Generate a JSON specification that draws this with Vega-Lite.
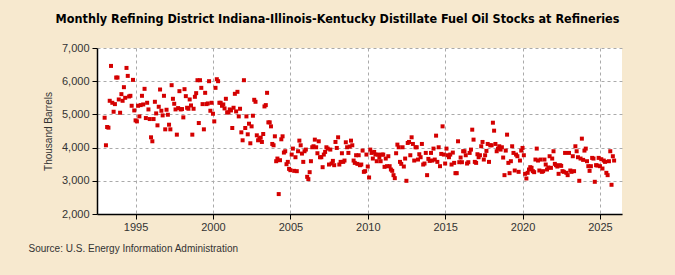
{
  "$schema": "https://vega.github.io/schema/vega-lite/v6.json",
  "autosize": {"type": "none"},
  "width": 525,
  "height": 166,
  "padding": {"left": 97, "top": 48, "right": 53, "bottom": 61},
  "background": "#F7E9CF",
  "title": {
    "text": "Monthly Refining District Indiana-Illinois-Kentucky Distillate Fuel Oil Stocks at Refineries",
    "anchor": "middle",
    "dx": -22,
    "offset": 17,
    "font": "DejaVu Sans Condensed, Liberation Sans",
    "fontSize": 12.5,
    "fontWeight": "bold",
    "color": "#000000"
  },
  "config": {
    "view": {"fill": "#FFFFFF", "stroke": null},
    "font": "Liberation Sans"
  },
  "data": {
    "values": [
      {"date":"1993-01-01","value":4900},{"date":"1993-02-01","value":4070},{"date":"1993-03-01","value":4620},{"date":"1993-04-01","value":4600},{"date":"1993-05-01","value":5410},{"date":"1993-06-01","value":6460},{"date":"1993-07-01","value":5350},{"date":"1993-08-01","value":5080},{"date":"1993-09-01","value":5310},{"date":"1993-10-01","value":6110},{"date":"1993-11-01","value":6110},{"date":"1993-12-01","value":5450},
      {"date":"1994-01-01","value":5050},{"date":"1994-02-01","value":5610},{"date":"1994-03-01","value":5410},{"date":"1994-04-01","value":5820},{"date":"1994-05-01","value":5500},{"date":"1994-06-01","value":6400},{"date":"1994-07-01","value":6160},{"date":"1994-08-01","value":5540},{"date":"1994-09-01","value":5560},{"date":"1994-10-01","value":5260},{"date":"1994-11-01","value":6040},{"date":"1994-12-01","value":5120},
      {"date":"1995-01-01","value":4820},{"date":"1995-02-01","value":4790},{"date":"1995-03-01","value":5260},{"date":"1995-04-01","value":4940},{"date":"1995-05-01","value":5280},{"date":"1995-06-01","value":5560},{"date":"1995-07-01","value":5300},{"date":"1995-08-01","value":5770},{"date":"1995-09-01","value":4890},{"date":"1995-10-01","value":5350},{"date":"1995-11-01","value":5150},{"date":"1995-12-01","value":4860},
      {"date":"1996-01-01","value":4310},{"date":"1996-02-01","value":4190},{"date":"1996-03-01","value":4860},{"date":"1996-04-01","value":5380},{"date":"1996-05-01","value":5030},{"date":"1996-06-01","value":4670},{"date":"1996-07-01","value":5230},{"date":"1996-08-01","value":5750},{"date":"1996-09-01","value":5110},{"date":"1996-10-01","value":4970},{"date":"1996-11-01","value":5560},{"date":"1996-12-01","value":4550},
      {"date":"1997-01-01","value":5140},{"date":"1997-02-01","value":4990},{"date":"1997-03-01","value":4690},{"date":"1997-04-01","value":4550},{"date":"1997-05-01","value":5880},{"date":"1997-06-01","value":5470},{"date":"1997-07-01","value":5320},{"date":"1997-08-01","value":5150},{"date":"1997-09-01","value":4390},{"date":"1997-10-01","value":5190},{"date":"1997-11-01","value":5700},{"date":"1997-12-01","value":5150},
      {"date":"1998-01-01","value":5160},{"date":"1998-02-01","value":4910},{"date":"1998-03-01","value":5760},{"date":"1998-04-01","value":5550},{"date":"1998-05-01","value":5200},{"date":"1998-06-01","value":5170},{"date":"1998-07-01","value":5450},{"date":"1998-08-01","value":5270},{"date":"1998-09-01","value":4390},{"date":"1998-10-01","value":5170},{"date":"1998-11-01","value":5530},{"date":"1998-12-01","value":5640},
      {"date":"1999-01-01","value":6030},{"date":"1999-02-01","value":4740},{"date":"1999-03-01","value":6030},{"date":"1999-04-01","value":5800},{"date":"1999-05-01","value":5310},{"date":"1999-06-01","value":4550},{"date":"1999-07-01","value":5650},{"date":"1999-08-01","value":5310},{"date":"1999-09-01","value":5330},{"date":"1999-10-01","value":6000},{"date":"1999-11-01","value":5110},{"date":"1999-12-01","value":5350},
      {"date":"2000-01-01","value":5020},{"date":"2000-02-01","value":4790},{"date":"2000-03-01","value":5800},{"date":"2000-04-01","value":6060},{"date":"2000-05-01","value":6000},{"date":"2000-06-01","value":5350},{"date":"2000-07-01","value":5350},{"date":"2000-08-01","value":5260},{"date":"2000-09-01","value":5300},{"date":"2000-10-01","value":5180},{"date":"2000-11-01","value":5470},{"date":"2000-12-01","value":5060},
      {"date":"2001-01-01","value":5060},{"date":"2001-02-01","value":5150},{"date":"2001-03-01","value":5120},{"date":"2001-04-01","value":4590},{"date":"2001-05-01","value":5200},{"date":"2001-06-01","value":5620},{"date":"2001-07-01","value":5090},{"date":"2001-08-01","value":5680},{"date":"2001-09-01","value":4940},{"date":"2001-10-01","value":5170},{"date":"2001-11-01","value":4460},{"date":"2001-12-01","value":4220},
      {"date":"2002-01-01","value":6030},{"date":"2002-02-01","value":4590},{"date":"2002-03-01","value":4940},{"date":"2002-04-01","value":4400},{"date":"2002-05-01","value":4720},{"date":"2002-06-01","value":4130},{"date":"2002-07-01","value":4640},{"date":"2002-08-01","value":4960},{"date":"2002-09-01","value":5440},{"date":"2002-10-01","value":5380},{"date":"2002-11-01","value":4370},{"date":"2002-12-01","value":4220},
      {"date":"2003-01-01","value":4270},{"date":"2003-02-01","value":4300},{"date":"2003-03-01","value":4170},{"date":"2003-04-01","value":4410},{"date":"2003-05-01","value":5240},{"date":"2003-06-01","value":5280},{"date":"2003-07-01","value":5650},{"date":"2003-08-01","value":4760},{"date":"2003-09-01","value":4760},{"date":"2003-10-01","value":4640},{"date":"2003-11-01","value":4110},{"date":"2003-12-01","value":4070},
      {"date":"2004-01-01","value":4340},{"date":"2004-02-01","value":3590},{"date":"2004-03-01","value":3670},{"date":"2004-04-01","value":2600},{"date":"2004-05-01","value":3620},{"date":"2004-06-01","value":4250},{"date":"2004-07-01","value":4340},{"date":"2004-08-01","value":3850},{"date":"2004-09-01","value":3890},{"date":"2004-10-01","value":3500},{"date":"2004-11-01","value":3570},{"date":"2004-12-01","value":3360},
      {"date":"2005-01-01","value":3320},{"date":"2005-02-01","value":3790},{"date":"2005-03-01","value":3970},{"date":"2005-04-01","value":3300},{"date":"2005-05-01","value":3710},{"date":"2005-06-01","value":3290},{"date":"2005-07-01","value":3890},{"date":"2005-08-01","value":4210},{"date":"2005-09-01","value":4070},{"date":"2005-10-01","value":3820},{"date":"2005-11-01","value":3570},{"date":"2005-12-01","value":3890},
      {"date":"2006-01-01","value":3940},{"date":"2006-02-01","value":3120},{"date":"2006-03-01","value":3050},{"date":"2006-04-01","value":3260},{"date":"2006-05-01","value":3590},{"date":"2006-06-01","value":4010},{"date":"2006-07-01","value":4040},{"date":"2006-08-01","value":4240},{"date":"2006-09-01","value":4010},{"date":"2006-10-01","value":3830},{"date":"2006-11-01","value":4190},{"date":"2006-12-01","value":3710},
      {"date":"2007-01-01","value":3710},{"date":"2007-02-01","value":3410},{"date":"2007-03-01","value":3790},{"date":"2007-04-01","value":3870},{"date":"2007-05-01","value":4010},{"date":"2007-06-01","value":3970},{"date":"2007-07-01","value":3490},{"date":"2007-08-01","value":3940},{"date":"2007-09-01","value":3520},{"date":"2007-10-01","value":3600},{"date":"2007-11-01","value":3470},{"date":"2007-12-01","value":4170},
      {"date":"2008-01-01","value":3990},{"date":"2008-02-01","value":4310},{"date":"2008-03-01","value":3490},{"date":"2008-04-01","value":3570},{"date":"2008-05-01","value":3830},{"date":"2008-06-01","value":3570},{"date":"2008-07-01","value":3610},{"date":"2008-08-01","value":4160},{"date":"2008-09-01","value":4010},{"date":"2008-10-01","value":3840},{"date":"2008-11-01","value":4030},{"date":"2008-12-01","value":4210},
      {"date":"2009-01-01","value":4070},{"date":"2009-02-01","value":3610},{"date":"2009-03-01","value":3540},{"date":"2009-04-01","value":3770},{"date":"2009-05-01","value":3510},{"date":"2009-06-01","value":3770},{"date":"2009-07-01","value":3470},{"date":"2009-08-01","value":3490},{"date":"2009-09-01","value":3910},{"date":"2009-10-01","value":3270},{"date":"2009-11-01","value":3290},{"date":"2009-12-01","value":3790},
      {"date":"2010-01-01","value":3430},{"date":"2010-02-01","value":3100},{"date":"2010-03-01","value":3940},{"date":"2010-04-01","value":3840},{"date":"2010-05-01","value":3670},{"date":"2010-06-01","value":3870},{"date":"2010-07-01","value":3790},{"date":"2010-08-01","value":3590},{"date":"2010-09-01","value":3790},{"date":"2010-10-01","value":3700},{"date":"2010-11-01","value":3590},{"date":"2010-12-01","value":3790},
      {"date":"2011-01-01","value":3790},{"date":"2011-02-01","value":3420},{"date":"2011-03-01","value":3670},{"date":"2011-04-01","value":3440},{"date":"2011-05-01","value":3740},{"date":"2011-06-01","value":3440},{"date":"2011-07-01","value":3340},{"date":"2011-08-01","value":3300},{"date":"2011-09-01","value":3170},{"date":"2011-10-01","value":3080},{"date":"2011-11-01","value":3830},{"date":"2011-12-01","value":4090},
      {"date":"2012-01-01","value":4010},{"date":"2012-02-01","value":3570},{"date":"2012-03-01","value":3510},{"date":"2012-04-01","value":4010},{"date":"2012-05-01","value":3430},{"date":"2012-06-01","value":3670},{"date":"2012-07-01","value":3000},{"date":"2012-08-01","value":4140},{"date":"2012-09-01","value":4170},{"date":"2012-10-01","value":3770},{"date":"2012-11-01","value":4310},{"date":"2012-12-01","value":4110},
      {"date":"2013-01-01","value":3610},{"date":"2013-02-01","value":4010},{"date":"2013-03-01","value":4010},{"date":"2013-04-01","value":3640},{"date":"2013-05-01","value":3800},{"date":"2013-06-01","value":3710},{"date":"2013-07-01","value":4110},{"date":"2013-08-01","value":3490},{"date":"2013-09-01","value":3520},{"date":"2013-10-01","value":3840},{"date":"2013-11-01","value":3170},{"date":"2013-12-01","value":3660},
      {"date":"2014-01-01","value":3600},{"date":"2014-02-01","value":3840},{"date":"2014-03-01","value":3610},{"date":"2014-04-01","value":3970},{"date":"2014-05-01","value":3640},{"date":"2014-06-01","value":4360},{"date":"2014-07-01","value":3570},{"date":"2014-08-01","value":4010},{"date":"2014-09-01","value":3440},{"date":"2014-10-01","value":3810},{"date":"2014-11-01","value":4640},{"date":"2014-12-01","value":3790},
      {"date":"2015-01-01","value":3520},{"date":"2015-02-01","value":3970},{"date":"2015-03-01","value":3770},{"date":"2015-04-01","value":3710},{"date":"2015-05-01","value":3790},{"date":"2015-06-01","value":3490},{"date":"2015-07-01","value":3850},{"date":"2015-08-01","value":3540},{"date":"2015-09-01","value":3230},{"date":"2015-10-01","value":3230},{"date":"2015-11-01","value":4190},{"date":"2015-12-01","value":3560},
      {"date":"2016-01-01","value":3700},{"date":"2016-02-01","value":3560},{"date":"2016-03-01","value":3890},{"date":"2016-04-01","value":3890},{"date":"2016-05-01","value":3770},{"date":"2016-06-01","value":3520},{"date":"2016-07-01","value":3560},{"date":"2016-08-01","value":3840},{"date":"2016-09-01","value":3940},{"date":"2016-10-01","value":4540},{"date":"2016-11-01","value":4240},{"date":"2016-12-01","value":3570},
      {"date":"2017-01-01","value":3540},{"date":"2017-02-01","value":3800},{"date":"2017-03-01","value":3710},{"date":"2017-04-01","value":3770},{"date":"2017-05-01","value":4040},{"date":"2017-06-01","value":4170},{"date":"2017-07-01","value":3640},{"date":"2017-08-01","value":3770},{"date":"2017-09-01","value":3900},{"date":"2017-10-01","value":4110},{"date":"2017-11-01","value":3570},{"date":"2017-12-01","value":4070},
      {"date":"2018-01-01","value":4070},{"date":"2018-02-01","value":4750},{"date":"2018-03-01","value":4510},{"date":"2018-04-01","value":4110},{"date":"2018-05-01","value":3890},{"date":"2018-06-01","value":3970},{"date":"2018-07-01","value":4040},{"date":"2018-08-01","value":3940},{"date":"2018-09-01","value":4010},{"date":"2018-10-01","value":3700},{"date":"2018-11-01","value":3170},{"date":"2018-12-01","value":3910},
      {"date":"2019-01-01","value":4390},{"date":"2019-02-01","value":3540},{"date":"2019-03-01","value":3230},{"date":"2019-04-01","value":3590},{"date":"2019-05-01","value":4040},{"date":"2019-06-01","value":3840},{"date":"2019-07-01","value":3310},{"date":"2019-08-01","value":3790},{"date":"2019-09-01","value":3740},{"date":"2019-10-01","value":3270},{"date":"2019-11-01","value":3610},{"date":"2019-12-01","value":3910},
      {"date":"2020-01-01","value":3990},{"date":"2020-02-01","value":3770},{"date":"2020-03-01","value":3210},{"date":"2020-04-01","value":3070},{"date":"2020-05-01","value":3240},{"date":"2020-06-01","value":3340},{"date":"2020-07-01","value":3410},{"date":"2020-08-01","value":3390},{"date":"2020-09-01","value":3290},{"date":"2020-10-01","value":3260},{"date":"2020-11-01","value":3640},{"date":"2020-12-01","value":3970},
      {"date":"2021-01-01","value":3610},{"date":"2021-02-01","value":3310},{"date":"2021-03-01","value":3640},{"date":"2021-04-01","value":3270},{"date":"2021-05-01","value":3290},{"date":"2021-06-01","value":3640},{"date":"2021-07-01","value":3490},{"date":"2021-08-01","value":3340},{"date":"2021-09-01","value":3400},{"date":"2021-10-01","value":3740},{"date":"2021-11-01","value":3390},{"date":"2021-12-01","value":3670},
      {"date":"2022-01-01","value":3890},{"date":"2022-02-01","value":3510},{"date":"2022-03-01","value":3470},{"date":"2022-04-01","value":3430},{"date":"2022-05-01","value":3210},{"date":"2022-06-01","value":3470},{"date":"2022-07-01","value":3450},{"date":"2022-08-01","value":3290},{"date":"2022-09-01","value":3270},{"date":"2022-10-01","value":3840},{"date":"2022-11-01","value":3240},{"date":"2022-12-01","value":3170},
      {"date":"2023-01-01","value":3840},{"date":"2023-02-01","value":3310},{"date":"2023-03-01","value":3270},{"date":"2023-04-01","value":3740},{"date":"2023-05-01","value":3290},{"date":"2023-06-01","value":4040},{"date":"2023-07-01","value":3890},{"date":"2023-08-01","value":3710},{"date":"2023-09-01","value":3000},{"date":"2023-10-01","value":3670},{"date":"2023-11-01","value":4270},{"date":"2023-12-01","value":3630},
      {"date":"2024-01-01","value":3910},{"date":"2024-02-01","value":3970},{"date":"2024-03-01","value":3590},{"date":"2024-04-01","value":3440},{"date":"2024-05-01","value":3300},{"date":"2024-06-01","value":3440},{"date":"2024-07-01","value":3690},{"date":"2024-08-01","value":3670},{"date":"2024-09-01","value":2970},{"date":"2024-10-01","value":3470},{"date":"2024-11-01","value":3460},{"date":"2024-12-01","value":3690},
      {"date":"2025-01-01","value":3440},{"date":"2025-02-01","value":3650},{"date":"2025-03-01","value":3370},{"date":"2025-04-01","value":3610},{"date":"2025-05-01","value":3570},{"date":"2025-06-01","value":3240},{"date":"2025-07-01","value":3170},{"date":"2025-08-01","value":3590},{"date":"2025-09-01","value":3890},{"date":"2025-10-01","value":2880},{"date":"2025-11-01","value":3740},{"date":"2025-12-01","value":3610}
    ]
  },
  "mark": {"type": "point", "shape": "square", "filled": true, "size": 16, "color": "#D40000", "opacity": 1},
  "encoding": {
    "x": {
      "field": "date",
      "type": "temporal",
      "scale": {"domain": ["1992-07-05", "2026-06-05"], "nice": false},
      "axis": {
        "values": ["1995-01-01", "2000-01-01", "2005-01-01", "2010-01-01", "2015-01-01", "2020-01-01", "2025-01-01"],
        "format": "%Y",
        "labelFont": "Liberation Sans",
        "labelFontSize": 11,
        "labelColor": "#333333",
        "labelPadding": 2,
        "tickSize": 5,
        "tickColor": "#000000",
        "domainColor": "#000000",
        "domainWidth": 1.5,
        "grid": true,
        "gridColor": "#AAAAAA",
        "gridDash": [3, 3],
        "gridWidth": 1,
        "title": "Source: U.S. Energy Information Administration",
        "titleFont": "Liberation Sans",
        "titleFontSize": 10,
        "titleFontWeight": "normal",
        "titleColor": "#333333",
        "titleAlign": "left",
        "titleAnchor": "start",
        "titleBaseline": "middle",
        "titleX": -69,
        "titleY": 34
      }
    },
    "y": {
      "field": "value",
      "type": "quantitative",
      "scale": {"domain": [2000, 7000], "nice": false, "zero": false},
      "axis": {
        "values": [2000, 3000, 4000, 5000, 6000, 7000],
        "format": ",d",
        "labelFont": "Liberation Sans",
        "labelFontSize": 11,
        "labelColor": "#333333",
        "labelPadding": 3,
        "tickSize": 5,
        "tickColor": "#000000",
        "domainColor": "#000000",
        "domainWidth": 1.5,
        "grid": true,
        "gridColor": "#AAAAAA",
        "gridDash": [3, 3],
        "gridWidth": 1,
        "title": "Thousand Barrels",
        "titleFont": "Liberation Sans",
        "titleFontSize": 10,
        "titleFontWeight": "normal",
        "titleColor": "#333333",
        "titlePadding": 8
      }
    }
  }
}
